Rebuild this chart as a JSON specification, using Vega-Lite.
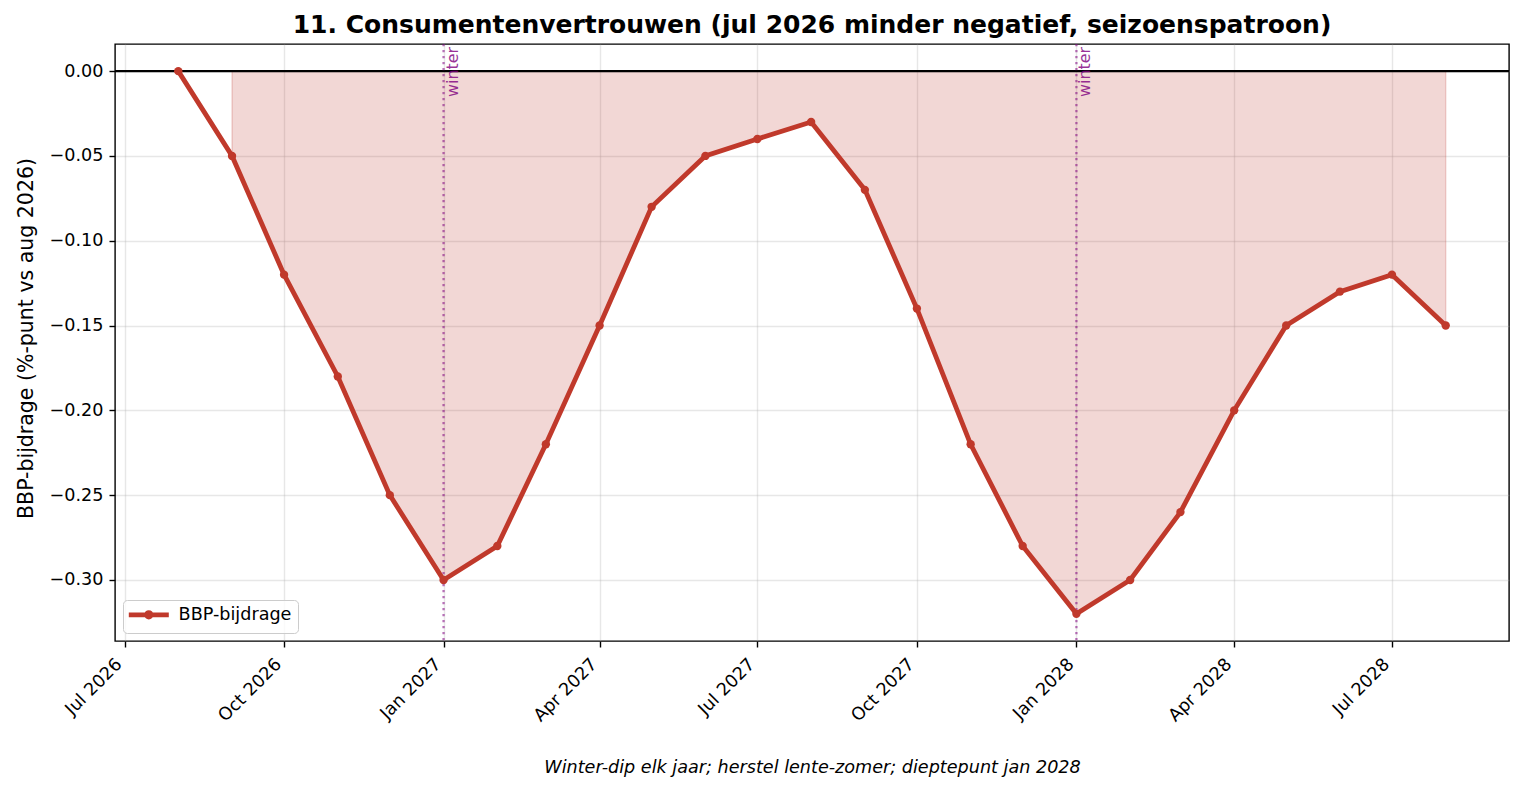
{
  "$schema": "https://vega.github.io/schema/vega-lite/v6.json",
  "autosize": "none",
  "padding": {"left": 115, "top": 44, "right": 14, "bottom": 150},
  "width": 1394,
  "height": 597,
  "title": {
    "text": "11. Consumentenvertrouwen (jul 2026 minder negatief, seizoenspatroon)",
    "font": "DejaVu Sans", "fontSize": 25, "fontWeight": "bold", "color": "black",
    "anchor": "middle", "frame": "group", "baseline": "alphabetic", "offset": 10, "dy": 25
  },
  "config": {
    "font": "DejaVu Sans",
    "view": {"stroke": "black", "strokeWidth": 1.4},
    "axis": {
      "labelFont": "DejaVu Sans", "labelFontSize": 17.6, "labelColor": "black",
      "tickColor": "black", "tickWidth": 1.4, "tickSize": 6, "labelPadding": 6,
      "domain": false, "gridColor": "#b0b0b0", "gridOpacity": 0.3, "gridWidth": 1.4,
      "labelOverlap": false, "labelBound": false,
      "titleFont": "DejaVu Sans", "titleColor": "black", "titleFontWeight": "normal"
    }
  },
  "datasets": {
    "series": [
      {"date": "2026-08-01T00:00:00", "v": 0.00},
      {"date": "2026-09-01T00:00:00", "v": -0.05},
      {"date": "2026-10-01T00:00:00", "v": -0.12},
      {"date": "2026-11-01T00:00:00", "v": -0.18},
      {"date": "2026-12-01T00:00:00", "v": -0.25},
      {"date": "2027-01-01T00:00:00", "v": -0.30},
      {"date": "2027-02-01T00:00:00", "v": -0.28},
      {"date": "2027-03-01T00:00:00", "v": -0.22},
      {"date": "2027-04-01T00:00:00", "v": -0.15},
      {"date": "2027-05-01T00:00:00", "v": -0.08},
      {"date": "2027-06-01T00:00:00", "v": -0.05},
      {"date": "2027-07-01T00:00:00", "v": -0.04},
      {"date": "2027-08-01T00:00:00", "v": -0.03},
      {"date": "2027-09-01T00:00:00", "v": -0.07},
      {"date": "2027-10-01T00:00:00", "v": -0.14},
      {"date": "2027-11-01T00:00:00", "v": -0.22},
      {"date": "2027-12-01T00:00:00", "v": -0.28},
      {"date": "2028-01-01T00:00:00", "v": -0.32},
      {"date": "2028-02-01T00:00:00", "v": -0.30},
      {"date": "2028-03-01T00:00:00", "v": -0.26},
      {"date": "2028-04-01T00:00:00", "v": -0.20},
      {"date": "2028-05-01T00:00:00", "v": -0.15},
      {"date": "2028-06-01T00:00:00", "v": -0.13},
      {"date": "2028-07-01T00:00:00", "v": -0.12},
      {"date": "2028-08-01T00:00:00", "v": -0.15}
    ],
    "winters": [
      {"date": "2027-01-01T00:00:00", "label": "winter"},
      {"date": "2028-01-01T00:00:00", "label": "winter"}
    ],
    "zero": [{"v": 0}]
  },
  "layer": [
    {
      "data": {"name": "series"},
      "transform": [{"filter": "datum.v < 0"}],
      "mark": {"type": "area", "color": "#c0392b", "fillOpacity": 0.2, "stroke": "#c0392b", "strokeOpacity": 0.2, "strokeWidth": 1.5},
      "encoding": {
        "x": {
          "field": "date", "type": "temporal",
          "scale": {"domain": [
            {"year": 2026, "month": "Jun", "date": 25, "hours": 12},
            {"year": 2028, "month": "Sep", "date": 6, "hours": 12}
          ]},
          "axis": {
            "values": [
              {"year": 2026, "month": "Jul", "date": 1},
              {"year": 2026, "month": "Oct", "date": 1},
              {"year": 2027, "month": "Jan", "date": 1},
              {"year": 2027, "month": "Apr", "date": 1},
              {"year": 2027, "month": "Jul", "date": 1},
              {"year": 2027, "month": "Oct", "date": 1},
              {"year": 2028, "month": "Jan", "date": 1},
              {"year": 2028, "month": "Apr", "date": 1},
              {"year": 2028, "month": "Jul", "date": 1}
            ],
            "format": "%b %Y", "labelAngle": -45, "labelAlign": "right", "labelBaseline": "top",
            "labelOffset": -12, "labelPadding": 8,
            "title": "Winter-dip elk jaar; herstel lente-zomer; dieptepunt jan 2028",
            "titleFontStyle": "italic", "titleFontSize": 17.6,
            "titleX": 697, "titleY": 131, "titleAlign": "center", "titleBaseline": "alphabetic"
          }
        },
        "y": {
          "field": "v", "type": "quantitative",
          "scale": {"domain": [-0.336, 0.016], "nice": false, "zero": false},
          "axis": {
            "values": [-0.30, -0.25, -0.20, -0.15, -0.10, -0.05, 0.00],
            "format": ".2f",
            "title": "BBP-bijdrage (%-punt vs aug 2026)", "titleFontSize": 20.5,
            "titleX": -83, "titleY": 294, "titleAngle": -90, "titleAlign": "center", "titleBaseline": "alphabetic"
          }
        },
        "y2": {"datum": 0}
      }
    },
    {
      "data": {"name": "zero"},
      "mark": {"type": "rule", "color": "black", "strokeWidth": 2.4},
      "encoding": {"y": {"field": "v", "type": "quantitative"}}
    },
    {
      "data": {"name": "winters"},
      "mark": {"type": "rule", "stroke": "purple", "strokeOpacity": 0.55, "strokeWidth": 2.3, "strokeDash": [2.3, 3.7]},
      "encoding": {"x": {"field": "date", "type": "temporal"}}
    },
    {
      "data": {"name": "winters"},
      "mark": {"type": "text", "color": "purple", "opacity": 0.8, "font": "DejaVu Sans", "fontSize": 15.9, "angle": -90, "align": "right", "baseline": "top", "dx": -3, "dy": 1},
      "encoding": {
        "x": {"field": "date", "type": "temporal"},
        "y": {"datum": 0.016, "type": "quantitative"},
        "text": {"field": "label"}
      }
    },
    {
      "data": {"name": "series"},
      "mark": {"type": "line", "strokeWidth": 4.8},
      "encoding": {
        "x": {"field": "date", "type": "temporal"},
        "y": {"field": "v", "type": "quantitative"},
        "color": {
          "datum": "BBP-bijdrage",
          "scale": {"range": ["#c0392b"]},
          "legend": {
            "title": null, "orient": "bottom-left", "offset": 8, "padding": 6,
            "strokeColor": "#cccccc", "fillColor": "rgba(255,255,255,0.8)", "cornerRadius": 4,
            "labelFont": "DejaVu Sans", "labelFontSize": 17.6, "labelColor": "black",
            "labelOffset": 21, "symbolOffset": 11,
            "symbolType": "M-4,0L4,0M-0.45,0A0.45,0.45,0,1,0,0.45,0A0.45,0.45,0,1,0,-0.45,0",
            "symbolSize": 100,
            "encode": {"symbols": {"update": {
              "fill": {"value": "#c0392b"}, "stroke": {"value": "#c0392b"},
              "strokeWidth": {"value": 4.8}, "opacity": {"value": 1}
            }}}
          }
        }
      }
    },
    {
      "data": {"name": "series"},
      "mark": {"type": "point", "filled": true, "size": 70, "opacity": 1},
      "encoding": {
        "x": {"field": "date", "type": "temporal"},
        "y": {"field": "v", "type": "quantitative"},
        "color": {"datum": "BBP-bijdrage"}
      }
    }
  ]
}
